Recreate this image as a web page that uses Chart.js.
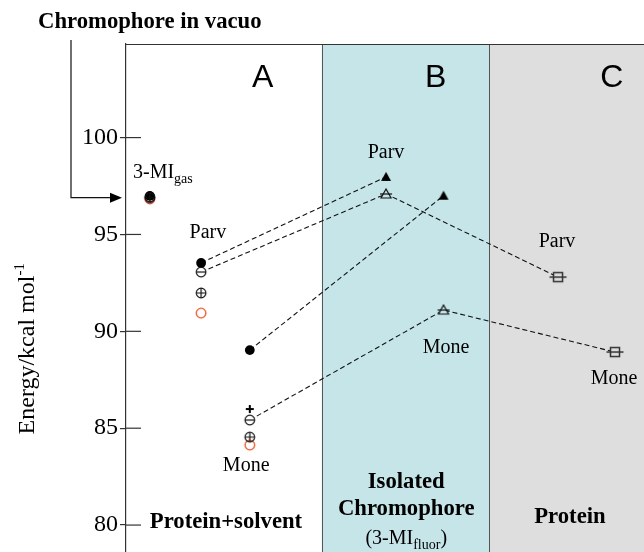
<!DOCTYPE html>
<html><head><meta charset="utf-8">
<script src="https://cdn.jsdelivr.net/npm/chart.js@4/dist/chart.umd.min.js"></script>
<style>html,body{margin:0;padding:0;background:#fff;overflow:hidden}canvas{display:block}</style>
</head><body>
<canvas id="c" width="644" height="552"></canvas>
<script>
// ---- data ----
const stages = ['3-MI gas', 'Parv (A)', 'Mone (A)', 'Parv (B)', 'Mone (B)', 'Parv (C)', 'Mone (C)'];
const stageX = [0.46, 1.45, 2.39, 5.02, 6.13, 8.34, 9.44];
const panelBStart = 3.78, panelCStart = 7.01;
// panel A (protein+solvent): [gas, Parv, Mone]
const filledCircle = [96.99, 93.53, 89.03];
const minusCircle  = [96.93, 93.06, 85.42];
const crossCircle  = [96.90, 91.98, 84.54];
const redCircle    = [96.83, 90.94, 84.13];
const plusMark     = [null, null, 85.99];
// panel B (isolated chromophore): [Parv, Mone]
const filledTriangle = [97.97, 97.00];
const openTriangle   = [97.09, 91.10];
// panel C (protein): [Parv, Mone]
const proteinSquare  = [92.80, 88.93];
const yTicks = [80, 85, 90, 95, 100];

const colB = 'rgb(198,229,233)', colC = 'rgb(222,222,222)';

function mk(draw, w, h) {
  const c = document.createElement('canvas');
  c.width = w || 22; c.height = h || 22;
  const g = c.getContext('2d');
  g.translate(c.width / 2, c.height / 2);
  draw(g);
  return c;
}
const R = 4.8;
const imgMinus = mk(g => { g.beginPath(); g.arc(0,0,R,0,Math.PI*2); g.fillStyle='#fff'; g.fill(); g.lineWidth=1.2; g.strokeStyle='#111'; g.stroke(); g.beginPath(); g.moveTo(-R,0); g.lineTo(R,0); g.stroke(); });
const imgCross = mk(g => { g.beginPath(); g.arc(0,0,R,0,Math.PI*2); g.lineWidth=1.2; g.strokeStyle='#111'; g.stroke(); g.beginPath(); g.moveTo(-R,0); g.lineTo(R,0); g.moveTo(0,-R); g.lineTo(0,R); g.stroke(); });
const imgRed = mk(g => { g.beginPath(); g.arc(0,0,R,0,Math.PI*2); g.fillStyle='#fff'; g.fill(); g.lineWidth=1.3; g.strokeStyle='#e8532c'; g.stroke(); });
const imgPlus = mk(g => { g.lineWidth=2; g.strokeStyle='#000'; g.beginPath(); g.moveTo(-4,0); g.lineTo(4,0); g.moveTo(0,-4); g.lineTo(0,4); g.stroke(); });
const imgFTri = mk(g => { g.beginPath(); g.moveTo(0,-5); g.lineTo(5,4); g.lineTo(-5,4); g.closePath(); g.fillStyle='#000'; g.fill(); });
const imgOTri = mk(g => { g.beginPath(); g.moveTo(0,-5); g.lineTo(5,4); g.lineTo(-5,4); g.closePath(); g.fillStyle=colB; g.fill(); g.lineWidth=1.2; g.strokeStyle='#111'; g.stroke(); g.beginPath(); g.moveTo(-6,0); g.lineTo(6,0); g.stroke(); });
const imgSq = mk(g => { g.fillStyle=colC; g.fillRect(-4.5,-4.5,9,9); g.lineWidth=1.5; g.strokeStyle='#333'; g.strokeRect(-4.5,-4.5,9,9); g.beginPath(); g.moveTo(-8.5,0); g.lineTo(8.5,0); g.stroke(); });

const A = [0,1,2];
const pts = (vals, idx) => vals.map((v,i) => v == null ? null : {x: stageX[idx[i]], y: v}).filter(p => p);
const markerDs = (vals, idx, style, extra) => Object.assign({data: pts(vals, idx), pointStyle: style, pointRadius: 5, showLine: false, order: 0}, extra || {});
const lineDs = (arr) => ({data: arr, showLine: true, borderColor: '#111', borderWidth: 1.1, borderDash: [5, 3], pointRadius: 0, fill: false, order: 1});

const datasets = [
  markerDs(crossCircle, A, imgCross),
  markerDs(filledCircle, A, 'circle', {backgroundColor: '#000', borderColor: '#000', borderWidth: 0, pointRadius: 4.9}),
  markerDs(minusCircle, A, imgMinus),
  markerDs(redCircle, A, imgRed),
  markerDs(plusMark, A, imgPlus),
  markerDs(filledTriangle, [3,4], imgFTri),
  markerDs(openTriangle, [3,4], imgOTri),
  markerDs(proteinSquare, [5,6], imgSq),
  lineDs([{x: stageX[1], y: filledCircle[1]}, {x: stageX[3], y: filledTriangle[0]}]),
  lineDs([{x: stageX[1], y: minusCircle[1]}, {x: stageX[3], y: openTriangle[0]}, {x: stageX[5], y: proteinSquare[0]}]),
  lineDs([{x: stageX[2], y: filledCircle[2]}, {x: stageX[4], y: filledTriangle[1]}]),
  lineDs([{x: stageX[2], y: minusCircle[2]}, {x: stageX[4], y: openTriangle[1]}, {x: stageX[6], y: proteinSquare[1]}])
];

const SERIF = '"Liberation Serif", "Times New Roman", serif';
const SANS = '"Liberation Sans", Arial, sans-serif';
const BOLD = 'bold 22.7px ' + SERIF;

function rich(ctx, parts, x, y, align) {
  let total = 0;
  parts.forEach(p => { ctx.font = (p.bold ? 'bold ' : '') + p.size + 'px ' + (p.family || SERIF); p.w = ctx.measureText(p.t).width; total += p.w; });
  let cx = align === 'center' ? x - total / 2 : x;
  ctx.textAlign = 'left'; ctx.textBaseline = 'alphabetic';
  parts.forEach(p => { ctx.font = (p.bold ? 'bold ' : '') + p.size + 'px ' + (p.family || SERIF); ctx.fillText(p.t, cx, y + (p.dy || 0)); cx += p.w; });
}

const annotations = [
  {t: 'Parv', x: 1.58, y: 95.07}, {t: 'Mone', x: 2.32, y: 83.05},
  {t: 'Parv', x: 5.02, y: 99.21}, {t: 'Mone', x: 6.18, y: 89.14},
  {t: 'Parv', x: 8.32, y: 94.61}, {t: 'Mone', x: 9.42, y: 87.54}
];

const decor = {
  id: 'decor',
  beforeDraw(chart) {
    const {ctx, chartArea: a, scales: {x}} = chart;
    const xb = x.getPixelForValue(panelBStart), xc = x.getPixelForValue(panelCStart);
    ctx.save();
    ctx.fillStyle = colB; ctx.fillRect(xb, a.top, xc - xb, a.bottom - a.top);
    ctx.fillStyle = colC; ctx.fillRect(xc, a.top, a.right - xc, a.bottom - a.top);
    ctx.strokeStyle = '#555'; ctx.lineWidth = 1;
    ctx.beginPath();
    ctx.moveTo(Math.round(xb) + 0.5, a.top); ctx.lineTo(Math.round(xb) + 0.5, a.bottom);
    ctx.moveTo(Math.round(xc) + 0.5, a.top); ctx.lineTo(Math.round(xc) + 0.5, a.bottom);
    ctx.stroke();
    ctx.strokeStyle = '#333'; ctx.lineWidth = 1.2;
    ctx.beginPath(); ctx.moveTo(a.left, a.top + 0.5); ctx.lineTo(a.right, a.top + 0.5); ctx.stroke();
    ctx.restore();
  },
  afterDraw(chart) {
    const {ctx, chartArea: a, scales: {x, y}} = chart;
    ctx.save();
    ctx.strokeStyle = '#333'; ctx.lineWidth = 1.2;
    y.ticks.forEach(t => { const py = y.getPixelForValue(t.value); ctx.beginPath(); ctx.moveTo(a.left, py); ctx.lineTo(a.left + 15, py); ctx.stroke(); });
    ctx.fillStyle = '#000';
    ctx.font = '32px ' + SANS; ctx.textAlign = 'center'; ctx.textBaseline = 'middle';
    [['A', 2.64], ['B', 5.98], ['C', 9.38]].forEach(([t, vx]) => ctx.fillText(t, x.getPixelForValue(vx), y.getPixelForValue(103.05)));
    ctx.font = '20px ' + SERIF;
    annotations.forEach(an => ctx.fillText(an.t, x.getPixelForValue(an.x), y.getPixelForValue(an.y)));
    rich(ctx, [{t: '3-MI', size: 20}, {t: 'gas', size: 14, dy: 5}], x.getPixelForValue(0.135), y.getPixelForValue(97.91), 'left');
    ctx.font = BOLD; ctx.textAlign = 'center'; ctx.textBaseline = 'middle';
    ctx.fillText('Protein+solvent', x.getPixelForValue(1.93), y.getPixelForValue(80.16));
    ctx.fillText('Isolated', x.getPixelForValue(5.41), y.getPixelForValue(82.22));
    ctx.fillText('Chromophore', x.getPixelForValue(5.41), y.getPixelForValue(80.83));
    ctx.fillText('Protein', x.getPixelForValue(8.57), y.getPixelForValue(80.42));
    rich(ctx, [{t: '(3-MI', size: 20}, {t: 'fluor', size: 14, dy: 5}, {t: ')', size: 20}], x.getPixelForValue(5.41), y.getPixelForValue(79.38) + 7, 'center');
    ctx.font = BOLD; ctx.textAlign = 'left'; ctx.textBaseline = 'middle';
    ctx.fillText('Chromophore in vacuo', 38, 22);
    const ay = y.getPixelForValue(crossCircle[0]);
    ctx.strokeStyle = '#111'; ctx.lineWidth = 1.2;
    ctx.beginPath(); ctx.moveTo(71, 40); ctx.lineTo(71, ay); ctx.lineTo(112, ay); ctx.stroke();
    ctx.beginPath(); ctx.moveTo(122, ay); ctx.lineTo(110, ay - 5); ctx.lineTo(110, ay + 5); ctx.closePath(); ctx.fillStyle = '#000'; ctx.fill();
    ctx.save();
    ctx.translate(26, y.getPixelForValue(89.1));
    ctx.rotate(-Math.PI / 2);
    ctx.fillStyle = '#000';
    rich(ctx, [{t: 'Energy/kcal mol', size: 24}, {t: '-1', size: 15, dy: -10}], 0, 8, 'center');
    ctx.restore();
    ctx.restore();
  }
};

new Chart(document.getElementById('c'), {
  type: 'scatter',
  data: {datasets},
  options: {
    responsive: false, animation: false, events: [],
    layout: {autoPadding: false, padding: {top: 44, right: 0, bottom: 0, left: 0}},
    plugins: {legend: {display: false}, tooltip: {enabled: false}},
    scales: {
      x: {type: 'linear', min: 0, max: 10, display: false},
      y: {
        type: 'linear', position: 'left', min: 78.61, max: 104.83,
        afterFit(s) { s.width = 126; s.paddingTop = 0; s.paddingBottom = 0; s.paddingLeft = 0; s.paddingRight = 0; },
        afterBuildTicks(s) { s.ticks = yTicks.map(v => ({value: v})); },
        ticks: {font: {family: SERIF, size: 24}, color: '#000', padding: 2, includeBounds: false},
        grid: {drawOnChartArea: false, tickLength: 6, color: '#333', lineWidth: 1.2},
        border: {display: true, color: '#333', width: 1.2}
      }
    }
  },
  plugins: [decor]
});
</script>
</body></html>
